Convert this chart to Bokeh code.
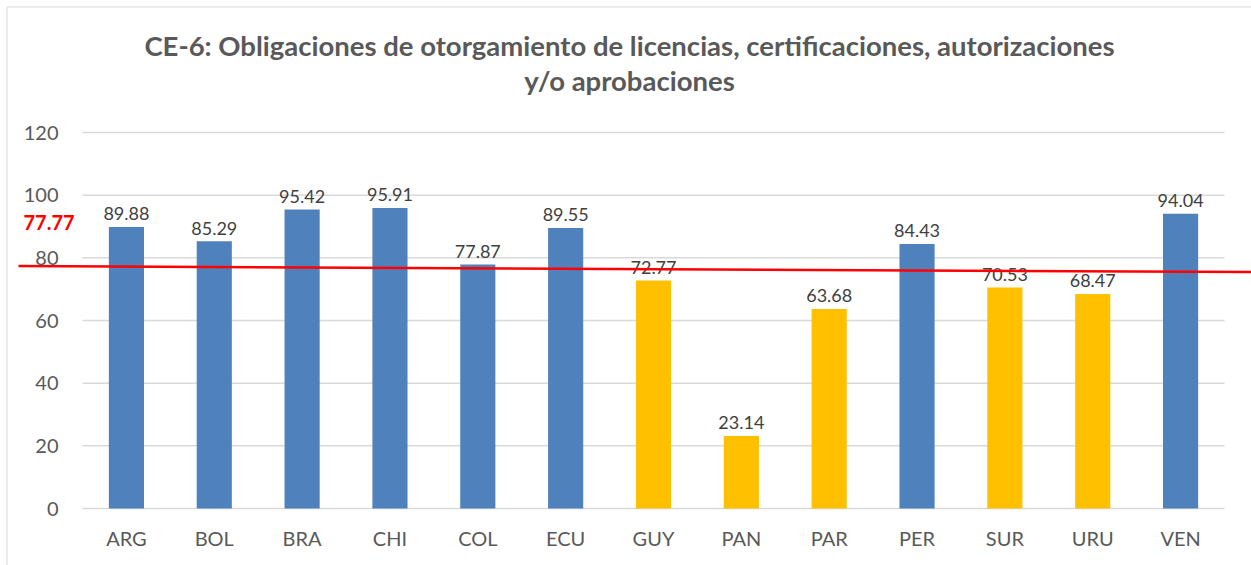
from bokeh.plotting import figure
from bokeh.models import ColumnDataSource, Range1d, FixedTicker
from bokeh.embed import file_html
from bokeh.resources import INLINE
from bokeh.core.properties import value

# ---- data ----
countries = ["ARG", "BOL", "BRA", "CHI", "COL", "ECU", "GUY", "PAN", "PAR", "PER", "SUR", "URU", "VEN"]
scores = [89.88, 85.29, 95.42, 95.91, 77.87, 89.55, 72.77, 23.14, 63.68, 84.43, 70.53, 68.47, 94.04]
avg_value = 77.77
avg_line_values = [77.36, 75.45]   # the hand-drawn red line is slightly sloped (left end, right end)
y_ticks = [0, 20, 40, 60, 80, 100, 120]
title_lines = ["CE-6: Obligaciones de otorgamiento de licencias, certificaciones, autorizaciones",
               "y/o aprobaciones"]

BLUE = "#4F81BD"
YELLOW = "#FFC000"
FONT = "Lato"
GRID = "#D9D9D9"

# ---- layout geometry (pixels) ----
W, H = 1251, 565
PLOT_L, PLOT_R, PLOT_T, PLOT_B = 82, 1224, 132, 508
n = len(countries)
ppx = (PLOT_R - PLOT_L) / n
ppy = (PLOT_B - PLOT_T) / (y_ticks[-1] - y_ticks[0])


def X(px):
    return (px - PLOT_L) / ppx


def Y(py):
    return (PLOT_B - py) / ppy


xs = [i + 0.5 for i in range(n)]
colors = [BLUE if s > avg_value else YELLOW for s in scores]
labels = [f"{s:.2f}" for s in scores]
src = ColumnDataSource(dict(x=xs, score=scores, color=colors, label=labels))

p = figure(width=W, height=H, x_range=Range1d(X(0), X(W)), y_range=Range1d(Y(H), Y(0)),
           output_backend="svg", toolbar_location=None, title_location=None,
           min_border=0)
p.outline_line_color = None
p.background_fill_color = "white"
p.border_fill_color = "white"
p.grid.visible = False

# chart-area border (left and top edges visible in the reference)
p.line(x=[X(6.5), X(6.5), X(W)], y=[Y(H), Y(6.5), Y(6.5)], line_color=GRID, line_width=1)

# horizontal gridlines over the plot area
p.segment(x0=[0] * len(y_ticks), x1=[n] * len(y_ticks), y0=y_ticks, y1=y_ticks,
          line_color=GRID, line_width=1.5)

# y axis drawn at the plot-area edge
p.yaxis.fixed_location = 0
p.yaxis.ticker = FixedTicker(ticks=y_ticks)
p.yaxis.axis_line_color = None
p.yaxis.major_tick_line_color = None
p.yaxis.minor_tick_line_color = None
p.yaxis.major_label_standoff = 18
p.yaxis.major_label_text_font = FONT
p.yaxis.major_label_text_font_size = "20px"
p.yaxis.major_label_text_color = "#595959"

# x axis drawn at y = 0
p.xaxis.fixed_location = 0
p.xaxis.ticker = FixedTicker(ticks=xs)
p.xaxis.major_label_overrides = {x: c for x, c in zip(xs, countries)}
p.xaxis.axis_line_color = None
p.xaxis.major_tick_line_color = None
p.xaxis.minor_tick_line_color = None
p.xaxis.major_label_standoff = 11
p.xaxis.major_label_text_font = FONT
p.xaxis.major_label_text_font_size = "20px"
p.xaxis.major_label_text_color = "#595959"

# bars and value labels
p.vbar(x="x", top="score", bottom=0, width=0.4, fill_color="color", line_color=None, source=src)
p.text(x="x", y="score", text="label", source=src, text_align="center", text_baseline="alphabetic",
       y_offset=-13, text_font=value(FONT), text_font_size="18px", text_color="#404040")

# red average line (extends beyond the plot area, as in the reference)
p.line(x=[X(18), X(W)], y=avg_line_values, line_color="#FF0000", line_width=2.5)
p.text(x=[X(48.5)], y=[avg_value], text=[f"{avg_value:.2f}"], text_align="center",
       text_baseline="alphabetic", y_offset=-42, text_font=value(FONT), text_font_style="bold",
       text_font_size="20px", text_color="#FF0000")

# two-line title
p.text(x=[X(629), X(629)], y=[Y(45), Y(80)], text=title_lines, text_align="center",
       text_baseline="alphabetic", text_font=value(FONT), text_font_style="bold",
       text_font_size="27.5px", text_color="#595959")

open("out.html", "w").write(file_html(p, INLINE))
